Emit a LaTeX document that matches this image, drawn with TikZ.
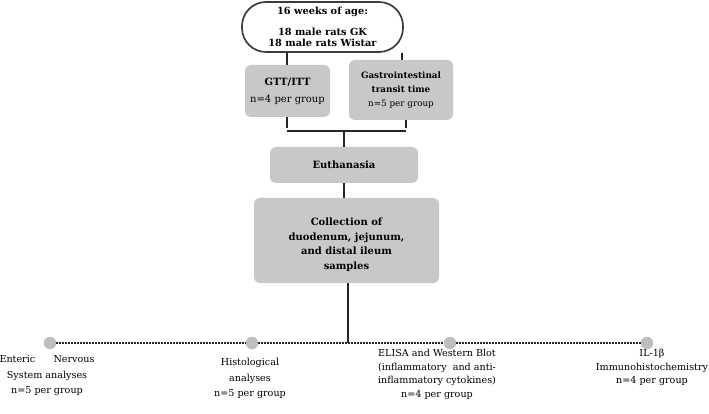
\documentclass[tikz,border=0pt]{standalone}
\usepackage{fontspec}
\setmainfont{DejaVu Serif}
\usetikzlibrary{positioning}
\definecolor{bxgray}{HTML}{C8C8C8}
\definecolor{dotgray}{HTML}{BEBEBE}
\definecolor{lnblack}{HTML}{262626}

\begin{document}
\begin{tikzpicture}[x=1pt, y=-1pt,
  every node/.style={font=\fontsize{9.6}{15.5}\selectfont},
  stepbox/.style={rectangle, rounded corners=6pt, fill=bxgray, align=center, inner sep=0pt},
  pill/.style={rectangle, rounded corners=24pt, draw=lnblack!90, line width=1.7pt, fill=white, align=center, inner sep=0pt},
  link/.style={draw=lnblack, line width=1.3pt},
  spot/.style={circle, fill=dotgray, minimum size=12.5pt, inner sep=0pt},
  result/.style={anchor=north, align=center},
]
\useasboundingbox (0,0) rectangle (709,414);

% Top group
\node[pill, minimum width=161pt, minimum height=50pt, font=\fontsize{9.8}{11}\selectfont\bfseries] (age) at (322.5,27) {16 weeks of age:\\[10pt]18 male rats GK\\18 male rats Wistar};

% Tests
\node[stepbox, minimum width=85pt, minimum height=52pt, font=\fontsize{10}{17}\selectfont] (gtt) at (287.5,91) {\textbf{GTT/ITT}\\n=4 per group};
\node[stepbox, minimum width=104pt, minimum height=60pt, font=\fontsize{8.8}{14}\selectfont] (transit) at (401,90) {\textbf{Gastrointestinal}\\\textbf{transit time}\\n=5 per group};

% Sacrifice and sampling
\node[stepbox, minimum width=148pt, minimum height=36pt, font=\fontsize{10}{15}\selectfont\bfseries] (euth) at (344,165) {Euthanasia};
\node[stepbox, minimum width=185pt, minimum height=85pt, font=\fontsize{10}{14.5}\selectfont\bfseries] (coll) at (346.5,240.5) {\raisebox{0pt}[16pt][0pt]{}Collection of\\duodenum, jejunum,\\and distal ileum\\samples};

% Bracket
\coordinate (barL) at (287,131);
\coordinate (barR) at (406,131);
\coordinate (barC) at (344,131);
\draw[link] ([xshift=-0.5pt]gtt.north |- age.south) -- ([xshift=-0.5pt]gtt.north);
\draw[link] ([xshift=1pt]transit.north |- age.south) -- ([xshift=1pt]transit.north);
\draw[link] ([xshift=-0.5pt]gtt.south) -- ([yshift=3pt]barL);
\draw[link] ([xshift=5pt]transit.south) -- ([yshift=3pt]barR);
\draw[link] (barL) -- (barR);
\draw[link] (barC) -- (euth.north);
\draw[link] (euth) -- (euth |- coll.north);

% Analyses
\node[spot] (ens) at (50,343) {};
\node[spot] (histo) at (252,343) {};
\node[spot] (elisa) at (450,343) {};
\node[spot] (ihc) at (647,343) {};
\coordinate (split) at (348,343);
\draw[link] ([xshift=1.5pt]coll.south) -- (split);
\draw[lnblack, line width=1.6pt, dash pattern=on 1.4pt off 1.6pt] (ens) -- (histo) -- (elisa) -- (ihc);

\node[result] (ensl) at (47,352) {Enteric\hspace{1.9em}Nervous\\System analyses\\n=5 per group};
\node[result] (histol) at (250,355) {Histological\\analyses\\n=5 per group};
\node[result, font=\fontsize{9.6}{13.4}\selectfont] (elisal) at (437,346) {ELISA\ and\ Western\ Blot\\(inflammatory\ \ and\ anti-\\inflammatory cytokines)\\n=4 per group};
\node[result, font=\fontsize{9.6}{13.4}\selectfont] (ihcl) at (652,346) {IL-1β\\Immunohistochemistry\\n=4 per group};

\end{tikzpicture}
\end{document}
